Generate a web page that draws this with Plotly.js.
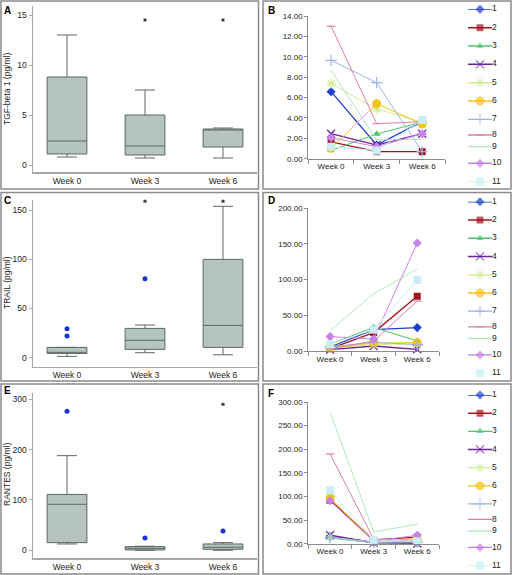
<!DOCTYPE html>
<html>
<head>
<meta charset="utf-8">
<script src="https://cdn.plot.ly/plotly-3.0.1.min.js"></script>
<style>html,body{margin:0;padding:0;background:#fff;}#chart{width:512px;height:575px;}</style>
</head>
<body>
<div id="chart"></div>
<script>
// ---------- DATA ----------
const weeks = ['Week 0', 'Week 3', 'Week 6'];
const seriesNames = ['1','2','3','4','5','6','7','8','9','10','11'];

// Panel A: TGF-beta 1 box statistics
const tgfLow  = [0.8, 0.7, 0.7];
const tgfQ1   = [1.1, 1.0, 1.8];
const tgfMed  = [2.4, 1.9, 3.5];
const tgfQ3   = [8.8, 5.0, 3.6];
const tgfHigh = [13.0, 7.5, 3.7];
const tgfStarX = ['Week 3', 'Week 6'];
const tgfStarY = [14.5, 14.5];

// Panel C: TRAIL box statistics
const trailLow  = [1.4, 5.1, 3.0];
const trailQ1   = [4.4, 8.5, 10.5];
const trailMed  = [5.5, 17.7, 32.9];
const trailQ3   = [10.5, 29.8, 99.9];
const trailHigh = [10.5, 33.2, 153.8];
const trailOutX = ['Week 0', 'Week 0', 'Week 3'];
const trailOutY = [29.5, 22.0, 80.3];
const trailStarX = ['Week 3', 'Week 6'];
const trailStarY = [158.9, 158.9];

// Panel E: RANTES box statistics
const rantesLow  = [12.6, 0.0, 0.0];
const rantesQ1   = [15.2, 0.7, 2.0];
const rantesMed  = [91.4, 4.0, 6.0];
const rantesQ3   = [111.0, 7.3, 12.6];
const rantesHigh = [188.0, 8.0, 15.2];
const rantesOutX = ['Week 0', 'Week 3', 'Week 6'];
const rantesOutY = [276.0, 24.5, 38.4];
const rantesStarX = ['Week 6'];
const rantesStarY = [290.0];

// Panel B: TGF-beta 1 per subject (Week 0, Week 3, Week 6)
const tgfSeries = [
  [6.58, 1.34, 3.63],
  [1.64, 0.69, 0.69],
  [0.82, 2.42, 3.60],
  [2.45, 1.34, 2.45],
  [7.36, 4.88, 3.57],
  [1.02, 5.40, 3.40],
  [9.65, 7.46, 0.69],
  [13.0, 3.44, 3.63],
  [8.67, 1.84, 1.90],
  [2.06, 1.18, 2.45],
  [1.18, 0.79, 3.80]
];
// Panel D: TRAIL per subject
const trailSeries = [
  [5.6, 30.0, 32.8],
  [3.3, 25.8, 76.7],
  [9.4, 33.2, 14.0],
  [2.0, 7.0, 2.4],
  [4.0, 9.0, 10.0],
  [4.2, 11.2, 11.7],
  [6.0, 12.0, 9.0],
  [3.0, 14.0, 70.0],
  [29.0, 80.0, 115.0],
  [20.2, 16.8, 151.4],
  [9.4, 30.0, 99.5]
];
// Panel F: RANTES per subject
const rantesSeries = [
  [16, 3, 2],
  [92, 8, 14],
  [12, 2, 3],
  [18, 2, 0.5],
  [14, 3, 6],
  [97, 6, 10],
  [13, 3, 4],
  [190, 10, 5],
  [279, 25, 41],
  [91, 5, 18],
  [113, 8, 5]
];

// ---------- STYLES ----------
const sColors = ['#1f3fd0','#a3141c','#4cc46a','#6b1f9b','#d2eb8e','#f2c418','#9bb5e8','#d97fa6','#aee8bc','#c983e6','#c9eef8'];
const sSymbols = ['diamond','square','triangle-up','x-thin-open','asterisk-open','circle','cross-thin-open','line-ew-open',null,'diamond','square'];
const sSizes = [7,7,7,8,8,9,8,6,0,7,8];
const sWidths = [1.3,1.3,1,1.3,1,1,1,1,1,1,1];
const legendSlots = [0,1.07,2.13,3.19,4.26,5.32,6.38,7.29,7.97,8.93,10];

const FONT = 'Liberation Sans, Arial, sans-serif';
const W = 512, H = 575;
const px = v => v / W;
const py = v => 1 - v / H;

const traces = [];

function boxTrace(xa, ya, lo, q1, med, q3, hi) {
  traces.push({
    type: 'box', x: weeks, q1: q1, median: med, q3: q3,
    lowerfence: lo, upperfence: hi,
    xaxis: xa, yaxis: ya, boxpoints: false,
    fillcolor: '#b6c4c1', line: {color: '#5d6664', width: 1},
    whiskerwidth: 0.5, width: 0.51, hoverinfo: 'skip'
  });
}
function outTrace(xa, ya, xs, ys) {
  traces.push({type:'scatter', mode:'markers', x: xs, y: ys, xaxis: xa, yaxis: ya,
    marker:{color:'#1b33d1', size:5}, cliponaxis:false, hoverinfo:'skip'});
}
function starTrace(xa, ya, xs, ys) {
  traces.push({type:'scatter', mode:'markers', x: xs, y: ys, xaxis: xa, yaxis: ya,
    marker:{symbol:'asterisk-open', color:'#333', size:3, line:{color:'#333', width:1}}, cliponaxis:false, hoverinfo:'skip'});
}
function markerSpec(i, size) {
  const sym = sSymbols[i];
  const open = sym && sym.indexOf('open') >= 0;
  return {symbol: sym || 'circle', size: size, color: sColors[i],
    line: {color: sColors[i], width: open ? 1.2 : 0}};
}
function lineTraces(data, xa, ya) {
  data.forEach((vals, i) => {
    traces.push({type:'scatter', mode: sSymbols[i] ? 'lines+markers' : 'lines',
      x: weeks, y: vals, xaxis: xa, yaxis: ya,
      line:{color: sColors[i], width: sWidths[i]},
      marker: markerSpec(i, sSizes[i]), cliponaxis:false, hoverinfo:'skip'});
  });
}
function legendTraces(xa, ya) {
  seriesNames.forEach((n, i) => {
    const m = markerSpec(i, [0, sSymbols[i] ? sSizes[i] : 0, 0]);
    traces.push({type:'scatter', mode: sSymbols[i] ? 'lines+markers+text' : 'lines+text',
      x:[0, 0.5, 1], y:[legendSlots[i], legendSlots[i], legendSlots[i]],
      xaxis: xa, yaxis: ya, text:['', '', n], textposition:'middle right',
      textfont:{size:8.5, color:'#222', family: FONT},
      line:{color: sColors[i], width: sWidths[i] + 0.3}, marker: m,
      cliponaxis:false, hoverinfo:'skip'});
  });
}

boxTrace('x', 'y', tgfLow, tgfQ1, tgfMed, tgfQ3, tgfHigh);
starTrace('x', 'y', tgfStarX, tgfStarY);
boxTrace('x3', 'y3', trailLow, trailQ1, trailMed, trailQ3, trailHigh);
outTrace('x3', 'y3', trailOutX, trailOutY);
starTrace('x3', 'y3', trailStarX, trailStarY);
boxTrace('x5', 'y5', rantesLow, rantesQ1, rantesMed, rantesQ3, rantesHigh);
outTrace('x5', 'y5', rantesOutX, rantesOutY);
starTrace('x5', 'y5', rantesStarX, rantesStarY);

lineTraces(tgfSeries, 'x2', 'y2');
lineTraces(trailSeries, 'x4', 'y4');
lineTraces(rantesSeries, 'x6', 'y6');
legendTraces('x7', 'y7');
legendTraces('x8', 'y8');
legendTraces('x9', 'y9');

// ---------- AXES ----------
const leftX = (anchor) => ({type:'category', domain:[px(33), px(257)], range:[-0.436, 2.436],
  anchor: anchor, showline:true, linecolor:'#a8a8a8', linewidth:1.5, ticks:'', showgrid:false, zeroline:false,
  tickfont:{size:8.5, color:'#222', family:FONT}, fixedrange:true});
const leftY = (anchor, top, bot, range, dtick) => ({domain:[py(bot), py(top)], range: range, dtick: dtick,
  anchor: anchor, showline:true, linecolor:'#a8a8a8', linewidth:1.5, ticks:'outside', ticklen:3, tickcolor:'#a8a8a8',
  showgrid:false, zeroline:false, tickfont:{size:8.5, color:'#222', family:FONT}, fixedrange:true});
const rightX = (anchor, right) => ({type:'category', domain:[px(308.3), px(right)], range:[-0.5, 2.5],
  anchor: anchor, showline:true, linecolor:'#8c8c8c', linewidth:1, ticks:'outside', tickson:'boundaries', ticklen:4,
  tickcolor:'#8c8c8c', showgrid:false, zeroline:false, tickfont:{size:8, color:'#222', family:FONT}, fixedrange:true});
const rightY = (anchor, top, bot, range, dtick) => ({domain:[py(bot), py(top)], range: range, dtick: dtick,
  anchor: anchor, showline:true, linecolor:'#8c8c8c', linewidth:1, ticks:'outside', ticklen:3, tickcolor:'#8c8c8c',
  tickformat:'.2f', showgrid:false, zeroline:false, tickfont:{size:8, color:'#222', family:FONT}, fixedrange:true});
const legX = (anchor) => ({domain:[px(468), px(492)], range:[0, 1], anchor: anchor, visible:false, fixedrange:true});
const legY = (anchor, top, bot) => ({domain:[py(bot), py(top)], range:[10, 0], anchor: anchor, visible:false, fixedrange:true});

const layout = {
  width: W, height: H, margin:{l:0, r:0, t:0, b:0},
  paper_bgcolor:'#fff', plot_bgcolor:'rgba(0,0,0,0)', showlegend:false,
  font:{family: FONT, size:9, color:'#222'},
  xaxis: leftX('y'),
  yaxis: leftY('x', 6, 172, [-0.7, 15.9], 5),
  xaxis3: leftX('y3'),
  yaxis3: leftY('x3', 200, 366.7, [-9.1, 160.2], 50),
  xaxis5: leftX('y5'),
  yaxis5: leftY('x5', 393, 558, [-15.3, 312.5], 100),
  xaxis2: rightX('y2', 445),
  yaxis2: rightY('x2', 16, 158.7, [0, 14], 2),
  xaxis4: rightX('y4', 439),
  yaxis4: rightY('x4', 208.3, 351, [0, 200], 50),
  xaxis6: rightX('y6', 439),
  yaxis6: rightY('x6', 402, 543.7, [0, 300], 50),
  xaxis7: legX('y7'), yaxis7: legY('x7', 9.3, 181.7),
  xaxis8: legX('y8'), yaxis8: legY('x8', 201.7, 373.3),
  xaxis9: legX('y9'), yaxis9: legY('x9', 395, 565.7),
  shapes: [
    [1, 1, 258.5, 189], [263, 1, 511, 189],
    [1, 192.5, 258.5, 381], [263, 192.5, 511, 381],
    [1, 384, 258.5, 574], [263, 384, 511, 574]
  ].map(r => ({type:'rect', xref:'paper', yref:'paper', x0:px(r[0]), x1:px(r[2]), y0:py(r[3]), y1:py(r[1]),
    line:{color:'#8a8a8a', width:1.5}, fillcolor:'rgba(0,0,0,0)'})),
  annotations: [
    ['A', 7, 10], ['B', 271, 10], ['C', 7, 200], ['D', 271, 200], ['E', 7, 390], ['F', 271, 393]
  ].map(a => ({text:'<b>' + a[0] + '</b>', xref:'paper', yref:'paper', x:px(a[1]), y:py(a[2]),
    xanchor:'center', yanchor:'middle', showarrow:false, font:{size:10, color:'#000', family:FONT}}))
  .concat([
    ['TGF-beta 1 (pg/ml)', 89], ['TRAIL (pg/ml)', 283], ['RANTES (pg/ml)', 475]
  ].map(a => ({text:a[0], xref:'paper', yref:'paper', x:px(7), y:py(a[1]), textangle:-90,
    xanchor:'center', yanchor:'middle', showarrow:false, font:{size:8.5, color:'#222', family:FONT}})))
};

Plotly.newPlot('chart', traces, layout, {staticPlot:true, displayModeBar:false});
</script>
</body>
</html>
